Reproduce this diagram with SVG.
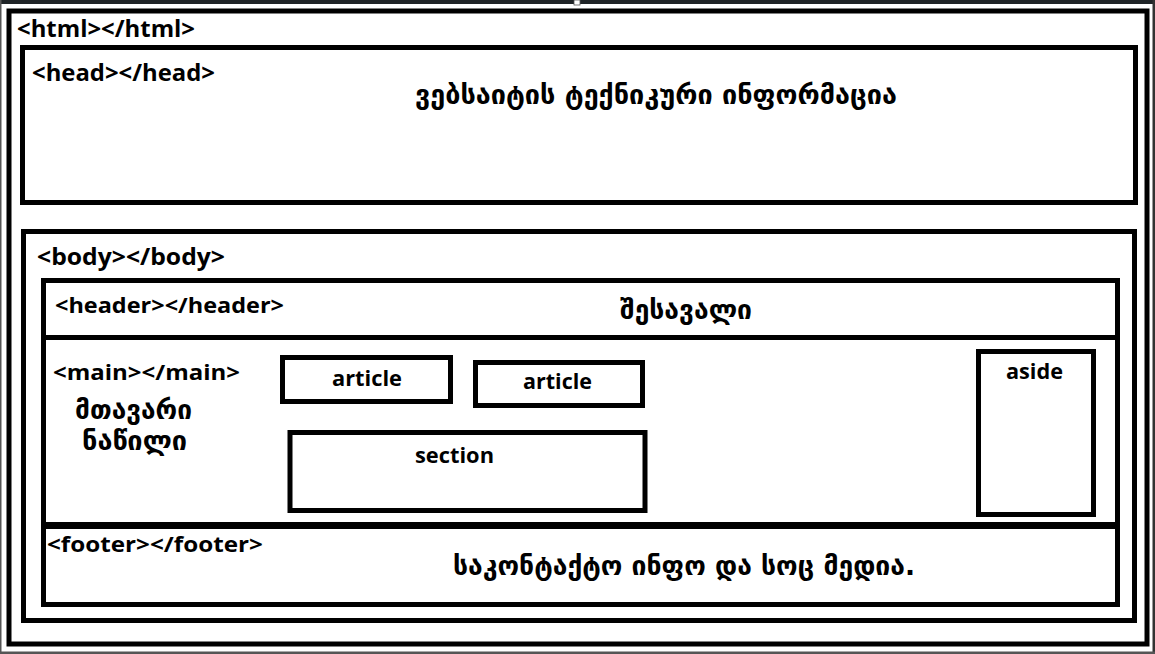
<svg xmlns="http://www.w3.org/2000/svg" width="1155" height="654" viewBox="0 0 1155 654">
<style>
.box{fill:none;stroke:#000;stroke-width:5}
.lbl{font-family:"Open Sans","DejaVu Sans",sans-serif;font-weight:bold;fill:#000}
.geo{font-family:"DejaVu Sans","Noto Sans",sans-serif;font-weight:bold;fill:#000}
</style>
<rect x="0" y="0" width="1155" height="654" fill="#fff"/>
<rect x="0" y="0" width="1155" height="4" fill="#1f2427"/>
<rect x="574" y="0" width="6" height="5" fill="#fff" stroke="#555" stroke-width="0.8"/>
<rect x="0" y="0" width="1.5" height="654" fill="#555"/>
<rect x="1152.5" y="0" width="2.5" height="654" fill="#333"/>
<rect x="0" y="651.5" width="1155" height="2.5" fill="#555"/>
<g id="html">
<rect class="box" x="9" y="11" width="1138" height="633"/>
<text class="lbl" x="17" y="37" font-size="23" textLength="178" lengthAdjust="spacingAndGlyphs">&lt;html&gt;&lt;/html&gt;</text>
</g>
<g id="head">
<rect class="box" x="22.5" y="47.5" width="1113" height="155"/>
<text class="lbl" x="32" y="81" font-size="23" textLength="183" lengthAdjust="spacingAndGlyphs">&lt;head&gt;&lt;/head&gt;</text>
<text class="geo" x="415" y="104" font-size="26" textLength="482" lengthAdjust="spacingAndGlyphs">ვებსაიტის ტექნიკური ინფორმაცია</text>
</g>
<g id="body">
<rect class="box" x="23.5" y="231.5" width="1111" height="389"/>
<text class="lbl" x="37" y="265" font-size="23" textLength="188" lengthAdjust="spacingAndGlyphs">&lt;body&gt;&lt;/body&gt;</text>
</g>
<g id="header">
<rect class="box" x="43.5" y="280.5" width="1074" height="57"/>
<text class="lbl" x="55" y="313" font-size="22" textLength="229" lengthAdjust="spacingAndGlyphs">&lt;header&gt;&lt;/header&gt;</text>
<text class="geo" x="620" y="319" font-size="26" textLength="132" lengthAdjust="spacingAndGlyphs">შესავალი</text>
</g>
<g id="main">
<rect class="box" x="43.5" y="337.5" width="1074" height="187"/>
<text class="lbl" x="53" y="380" font-size="22" textLength="187" lengthAdjust="spacingAndGlyphs">&lt;main&gt;&lt;/main&gt;</text>
<text class="geo" x="75" y="419" font-size="26" textLength="117" lengthAdjust="spacingAndGlyphs">მთავარი</text>
<text class="geo" x="82" y="450" font-size="26" textLength="105" lengthAdjust="spacingAndGlyphs">ნაწილი</text>
</g>
<g id="article1">
<rect class="box" x="282.5" y="357.5" width="168" height="44"/>
<text class="lbl" x="332" y="386" font-size="22" textLength="70" lengthAdjust="spacingAndGlyphs">article</text>
</g>
<g id="article2">
<rect class="box" x="475.5" y="362.5" width="167" height="43"/>
<text class="lbl" x="523" y="389" font-size="22" textLength="69" lengthAdjust="spacingAndGlyphs">article</text>
</g>
<g id="section">
<rect class="box" x="290" y="432.5" width="355" height="78"/>
<text class="lbl" x="415" y="463" font-size="22" textLength="79" lengthAdjust="spacingAndGlyphs">section</text>
</g>
<g id="aside">
<rect class="box" x="978.5" y="351.5" width="115" height="163"/>
<text class="lbl" x="1006" y="379" font-size="22" textLength="57" lengthAdjust="spacingAndGlyphs">aside</text>
</g>
<g id="footer">
<rect class="box" x="43.5" y="526.5" width="1074" height="78"/>
<text class="lbl" x="47" y="552" font-size="22" textLength="216" lengthAdjust="spacingAndGlyphs">&lt;footer&gt;&lt;/footer&gt;</text>
<text class="geo" x="453" y="575" font-size="26" textLength="462" lengthAdjust="spacingAndGlyphs">საკონტაქტო ინფო და სოც მედია.</text>
</g>
<g id="connectors"></g>
</svg>
